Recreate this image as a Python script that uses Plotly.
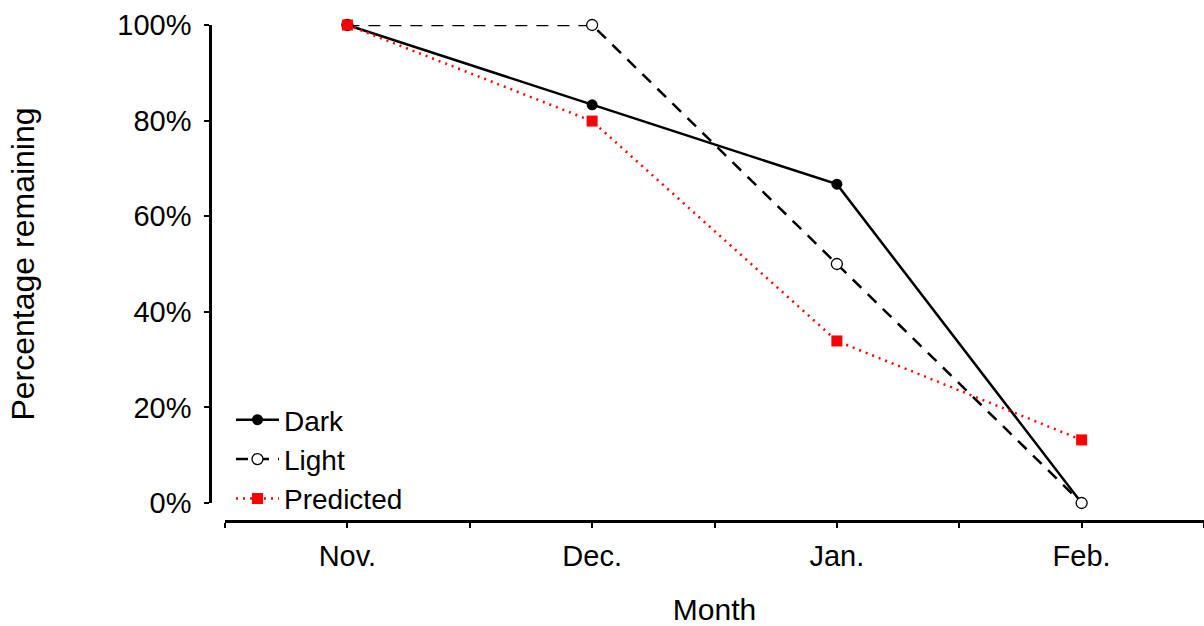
import plotly.graph_objects as go

# Monthly percentages remaining
months = ["Nov.", "Dec.", "Jan.", "Feb."]
dark = [100, 83.3, 66.7, 0]
light = [100, 100, 50, 0]
predicted = [100, 79.9, 33.9, 13.2]

y_tick_vals = [0, 20, 40, 60, 80, 100]
y_tick_text = ["0%", "20%", "40%", "60%", "80%", "100%"]

FONT = "Liberation Sans, Arial, sans-serif"
pos = list(range(len(months)))

fig = go.Figure()
fig.add_trace(go.Scatter(
    x=pos, y=dark, name="Dark", mode="lines+markers",
    line=dict(color="black", width=2.5),
    marker=dict(symbol="circle", size=11, color="black"),
    cliponaxis=False,
))
fig.add_trace(go.Scatter(
    x=pos, y=light, name="Light", mode="lines+markers",
    line=dict(color="black", width=2.5, dash="12px,9px"),
    marker=dict(symbol="circle", size=11, color="white",
                line=dict(color="black", width=1.3)),
    cliponaxis=False,
))
fig.add_trace(go.Scatter(
    x=pos, y=predicted, name="Predicted", mode="lines+markers",
    line=dict(color="#ff0000", width=2.5, dash="2px,5px"),
    marker=dict(symbol="square", size=11, color="#ff0000"),
    cliponaxis=False,
))

# ticks at every month and halfway between months
x_ticks = [i * 0.5 - 0.5 for i in range(2 * len(months) + 1)]
x_labels = ["" if (i % 2 == 0) else months[i // 2] for i in range(len(x_ticks))]

L, T, B = 210, 25, 105
W, H = 1204, 626
pw = W - L
ph = H - T - B

fig.update_layout(
    width=W, height=H,
    margin=dict(l=L, r=0, t=T, b=B),
    plot_bgcolor="white", paper_bgcolor="white",
    font=dict(family=FONT, size=29, color="black"),
    showlegend=True,
    legend=dict(
        x=(231 - L) / pw, y=(H - B - 524) / ph,
        xanchor="left", yanchor="bottom",
        bgcolor="rgba(0,0,0,0)", font=dict(size=28),
        tracegroupgap=0, itemwidth=43,
    ),
    xaxis=dict(
        domain=[(225 - L) / pw, 1],
        range=[-0.5, len(months) - 0.5],
        tickvals=x_ticks, ticktext=x_labels,
        ticks="outside", ticklen=5, tickwidth=2, tickcolor="black",
        showline=True, linecolor="black", linewidth=2.5,
        showgrid=False, zeroline=False,
        anchor="free", position=0,
        ticklabelstandoff=3,
        title=dict(text="Month", font=dict(size=30), standoff=33),
        tickfont=dict(size=29),
    ),
    yaxis=dict(
        domain=[(H - B - 503) / ph, 1],
        range=[0, 100],
        tickvals=y_tick_vals, ticktext=y_tick_text,
        ticks="outside", ticklen=5, tickwidth=2, tickcolor="black",
        showline=True, linecolor="black", linewidth=2.5,
        showgrid=False, zeroline=False,
        anchor="free", position=0,
        ticklabelstandoff=7,
        title=dict(text="Percentage remaining", font=dict(size=32), standoff=72),
        tickfont=dict(size=29),
    ),
)

fig.write_html("out.html")
